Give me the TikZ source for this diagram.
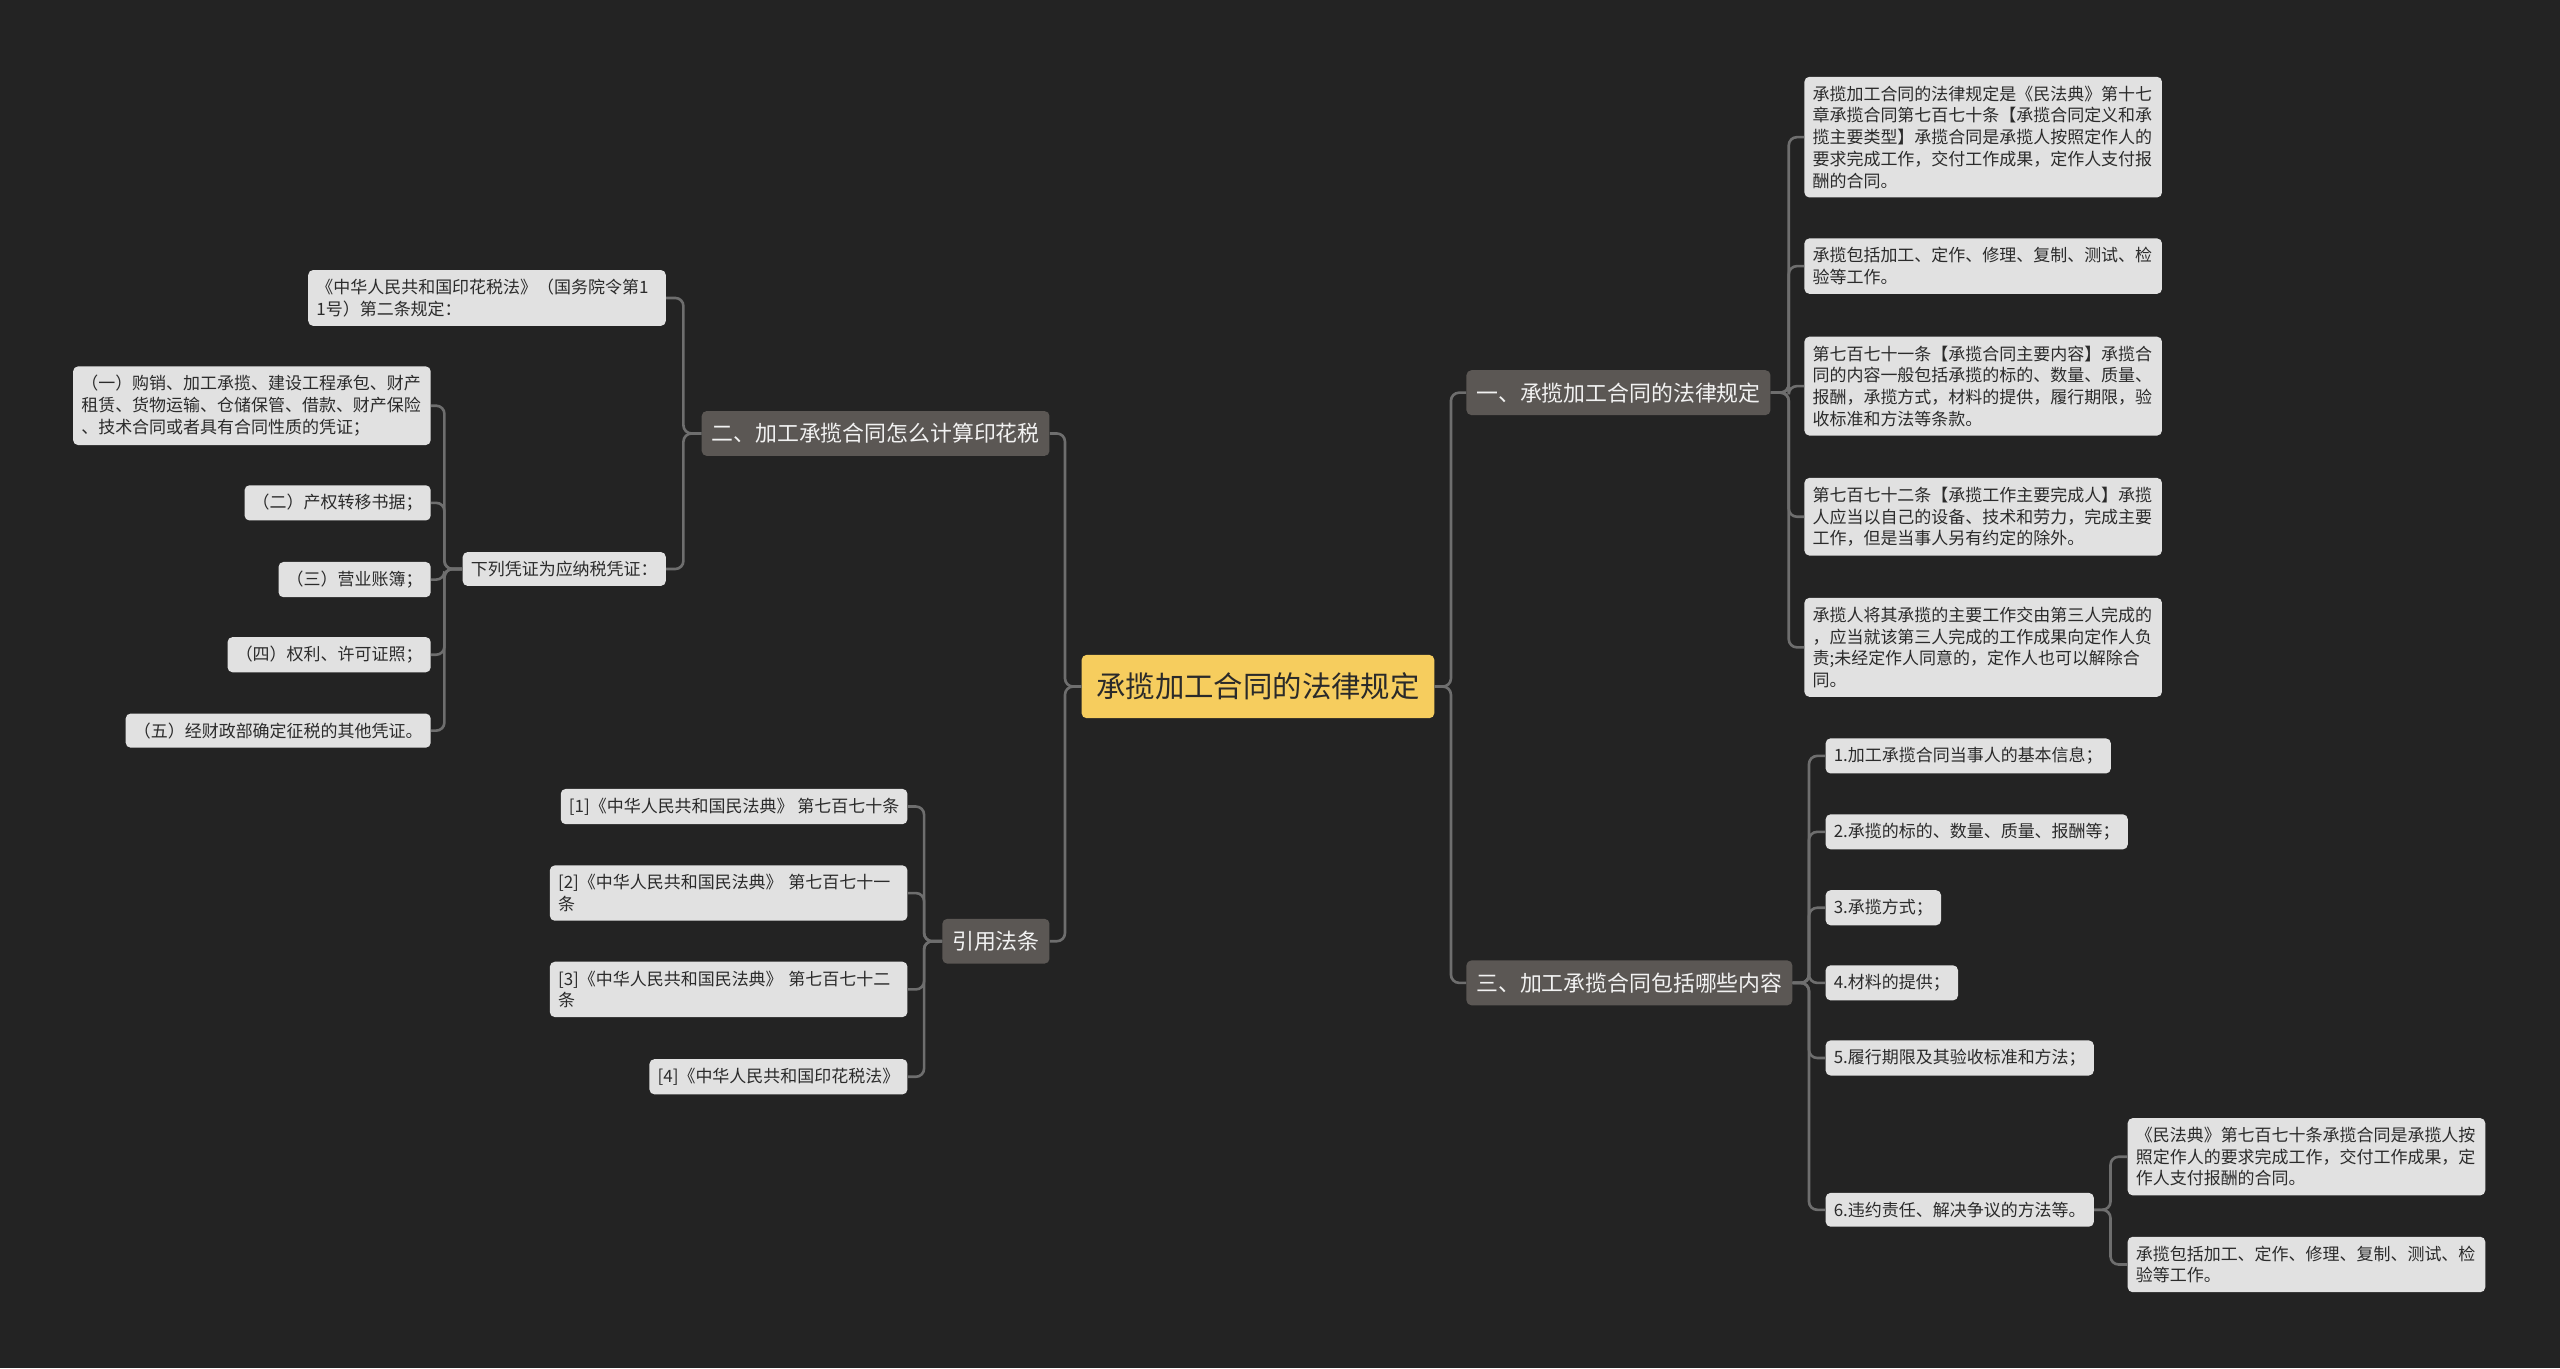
\documentclass[tikz,border=0pt]{standalone}
\usepackage{fontspec}
\setmainfont{Noto Sans CJK SC}
\definecolor{bgdark}{HTML}{232323}
\definecolor{linegray}{HTML}{6E6E6E}
\definecolor{rootyellow}{HTML}{F6CD5E}
\definecolor{rootink}{HTML}{2A2A2A}
\definecolor{branchgray}{HTML}{5B5754}
\definecolor{branchink}{HTML}{F2F2F2}
\definecolor{leafgray}{HTML}{E1E1E1}
\definecolor{leafink}{HTML}{2B2B2B}

\begin{document}
\begin{tikzpicture}[x=1pt, y=-1pt,
  link/.style={draw=linegray, line width=1.6pt, rounded corners=5pt},
  rootbox/.style={fill=rootyellow, text=rootink, rounded corners=3pt, inner xsep=9pt, inner ysep=11pt, font=\fontsize{18}{21}\selectfont},
  branchbox/.style={fill=branchgray, text=branchink, rounded corners=3pt, inner xsep=6pt, inner ysep=7.5pt, font=\fontsize{13.4}{16}\selectfont},
  leafbox/.style={fill=leafgray, text=leafink, rounded corners=3pt, inner xsep=5pt, inner ysep=5.5pt, font=\fontsize{10.4}{13.3}\selectfont, align=left},
  longbox/.style={leafbox, text width=209pt}]
  \fill[bgdark] (0,0) rectangle (1568,838);
  % centre
  \node[rootbox] (root) at (770.5,420.5) {承揽加工合同的法律规定};
  % branches
  \node[branchbox, anchor=west] (b1) at (898,240.5) {一、承揽加工合同的法律规定};
  \node[branchbox, anchor=west] (b3) at (898,602) {三、加工承揽合同包括哪些内容};
  \node[branchbox, anchor=east] (b2) at (643,265.5) {二、加工承揽合同怎么计算印花税};
  \node[branchbox, anchor=east] (b4) at (643,576.5) {引用法条};
  % branch one
  \node[longbox, anchor=west] (a1) at (1105,84) {承揽加工合同的法律规定是《民法典》第十七\\章承揽合同第七百七十条【承揽合同定义和承\\揽主要类型】承揽合同是承揽人按照定作人的\\要求完成工作，交付工作成果，定作人支付报\\酬的合同。};
  \node[longbox, anchor=west] (a2) at (1105,163) {承揽包括加工、定作、修理、复制、测试、检\\验等工作。};
  \node[longbox, anchor=west] (a3) at (1105,236.5) {第七百七十一条【承揽合同主要内容】承揽合\\同的内容一般包括承揽的标的、数量、质量、\\报酬，承揽方式，材料的提供，履行期限，验\\收标准和方法等条款。};
  \node[longbox, anchor=west] (a4) at (1105,316.5) {第七百七十二条【承揽工作主要完成人】承揽\\人应当以自己的设备、技术和劳力，完成主要\\工作，但是当事人另有约定的除外。};
  \node[longbox, anchor=west] (a5) at (1105,396.5) {承揽人将其承揽的主要工作交由第三人完成的\\，应当就该第三人完成的工作成果向定作人负\\责;未经定作人同意的，定作人也可以解除合\\同。};
  % branch three
  \node[leafbox, anchor=west] (c1) at (1118,463) {1.加工承揽合同当事人的基本信息；};
  \node[leafbox, anchor=west] (c2) at (1118,509.5) {2.承揽的标的、数量、质量、报酬等；};
  \node[leafbox, anchor=west] (c3) at (1118,556) {3.承揽方式；};
  \node[leafbox, anchor=west] (c4) at (1118,602) {4.材料的提供；};
  \node[leafbox, anchor=west] (c5) at (1118,648) {5.履行期限及其验收标准和方法；};
  \node[leafbox, anchor=west] (c6) at (1118,741) {6.违约责任、解决争议的方法等。};
  \node[longbox, anchor=west] (c6a) at (1303,708.5) {《民法典》第七百七十条承揽合同是承揽人按\\照定作人的要求完成工作，交付工作成果，定\\作人支付报酬的合同。};
  \node[longbox, anchor=west] (c6b) at (1303,774.5) {承揽包括加工、定作、修理、复制、测试、检\\验等工作。};
  % branch two
  \node[longbox, anchor=east] (d1) at (408,182.5) {《中华人民共和国印花税法》（国务院令第1\\1号）第二条规定：};
  \node[leafbox, anchor=east] (d2) at (408,348.5) {下列凭证为应纳税凭证：};
  \node[longbox, anchor=east] (e1) at (264,248.5) {（一）购销、加工承揽、建设工程承包、财产\\租赁、货物运输、仓储保管、借款、财产保险\\、技术合同或者具有合同性质的凭证；};
  \node[leafbox, anchor=east] (e2) at (264,308) {（二）产权转移书据；};
  \node[leafbox, anchor=east] (e3) at (264,355) {（三）营业账簿；};
  \node[leafbox, anchor=east] (e4) at (264,401) {（四）权利、许可证照；};
  \node[leafbox, anchor=east] (e5) at (264,447.5) {（五）经财政部确定征税的其他凭证。};
  % references
  \node[leafbox, anchor=east] (f1) at (556,494) {[1]《中华人民共和国民法典》 第七百七十条};
  \node[longbox, anchor=east] (f2) at (556,547) {[2]《中华人民共和国民法典》 第七百七十一\\条};
  \node[longbox, anchor=east] (f3) at (556,606) {[3]《中华人民共和国民法典》 第七百七十二\\条};
  \node[leafbox, anchor=east] (f4) at (556,659.5) {[4]《中华人民共和国印花税法》};
  % connectors
  \foreach \n in {b1,b3} \draw[link] (root.east) -- ++(10,0) |- (\n.west);
  \foreach \n in {b2,b4} \draw[link] (root.west) -- ++(-10,0) |- (\n.east);
  \foreach \n in {a1,a2,a3,a4,a5} \draw[link] (b1.east) -- ++(11,0) |- (\n.west);
  \foreach \n in {c1,c2,c3,c4,c5,c6} \draw[link] (b3.east) -- ++(10,0) |- (\n.west);
  \foreach \n in {c6a,c6b} \draw[link] (c6.east) -- ++(10,0) |- (\n.west);
  \foreach \n in {d1,d2} \draw[link] (b2.west) -- ++(-11,0) |- (\n.east);
  \foreach \n in {e1,e2,e3,e4,e5} \draw[link] (d2.west) -- ++(-11,0) |- (\n.east);
  \foreach \n in {f1,f2,f3,f4} \draw[link] (b4.west) -- ++(-11,0) |- (\n.east);
\end{tikzpicture}
\end{document}
